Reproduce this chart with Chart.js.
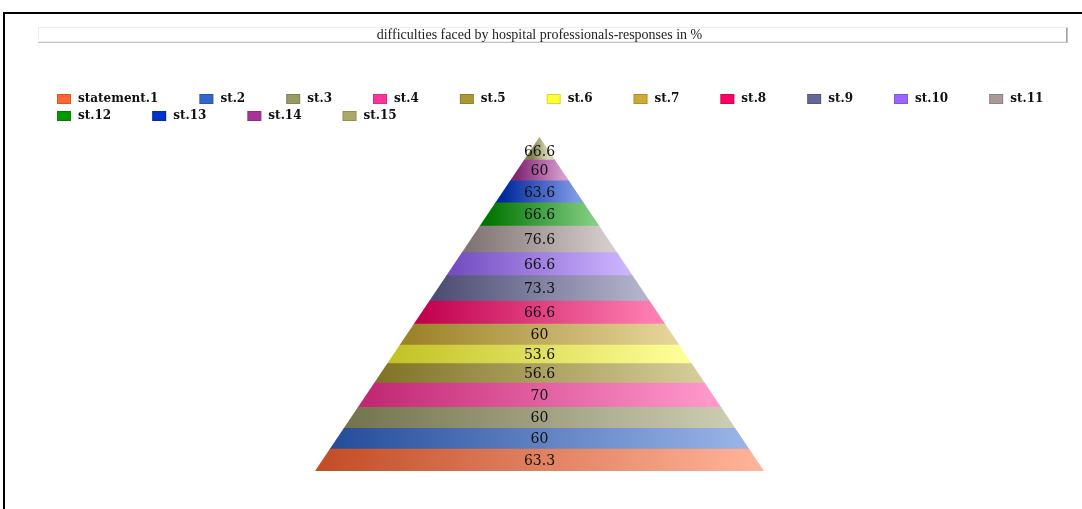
<!DOCTYPE html>
<html>
<head>
<meta charset="utf-8">
<script src="https://cdn.jsdelivr.net/npm/chart.js@4.4.0/dist/chart.umd.min.js"></script>
<style>
    html, body { margin: 0; padding: 0; background: #fff; overflow: hidden; }
    #frame { position: absolute; left: 3px; top: 12px; width: 1100px; height: 520px; border-left: 2px solid #000; border-top: 2px solid #000; }
    #chart { position: absolute; left: 0; top: 0; }
</style>
</head>
<body>
<div id="frame"></div>
<canvas id="chart" width="1082" height="509"></canvas>
<script>
// statements, bottom of the pyramid first
const statements = ['statement.1', 'st.2', 'st.3', 'st.4', 'st.5', 'st.6', 'st.7', 'st.8',
    'st.9', 'st.10', 'st.11', 'st.12', 'st.13', 'st.14', 'st.15'];
const responses = [63.3, 60, 60, 70, 56.6, 53.6, 60, 66.6, 73.3, 66.6, 76.6, 66.6, 63.6, 60, 66.6];
const colors = ['#FF6633', '#3366CC', '#999966', '#FF3399', '#AA9933', '#FFFF33', '#CCAA33', '#FF0066',
    '#666699', '#9966FF', '#AA9999', '#009900', '#0033CC', '#AA3399', '#AAAA66'];
const chartTitle = 'difficulties faced by hospital professionals-responses in %';

const BASE_WIDTH = 449;
const total = responses.reduce((a, b) => a + b, 0);

function hexToRgb(hex) {
    const n = parseInt(hex.slice(1), 16);
    return [(n >> 16) & 255, (n >> 8) & 255, n & 255];
}
function darker(hex, f) {
    const c = hexToRgb(hex);
    return `rgb(${c.map(v => Math.round(v * f)).join(',')})`;
}
function lighter(hex, t) {
    const c = hexToRgb(hex);
    return `rgb(${c.map(v => Math.round(v + (255 - v) * t)).join(',')})`;
}

// Horizontal gradient across the width of each pyramid slice
function sliceFill(context) {
    const chart = context.chart;
    const i = context.datasetIndex;
    if (!chart.chartArea || !chart.scales.x) {
        return colors[i];
    }
    const start = responses.slice(0, i).reduce((a, b) => a + b, 0);
    const mid = start + responses[i] / 2;
    const cx = chart.scales.x.getPixelForValue(0);
    const half = BASE_WIDTH / 2 * (total - mid) / total;
    const g = chart.ctx.createLinearGradient(cx - half, 0, cx + half, 0);
    g.addColorStop(0, darker(colors[i], 0.76));
    g.addColorStop(1, lighter(colors[i], 0.5));
    return g;
}

// Clip the stacked bar into a triangle
const pyramidClip = {
    id: 'pyramidClip',
    beforeDatasetsDraw(chart) {
        const el = chart.getDatasetMeta(0).data[0];
        const y = chart.scales.y;
        const top = y.getPixelForValue(total);
        const bottom = y.getPixelForValue(0);
        const ctx = chart.ctx;
        ctx.save();
        ctx.beginPath();
        ctx.moveTo(el.x, top);
        ctx.lineTo(el.x + el.width / 2, bottom);
        ctx.lineTo(el.x - el.width / 2, bottom);
        ctx.closePath();
        ctx.clip();
    },
    afterDatasetsDraw(chart) {
        const ctx = chart.ctx;
        ctx.restore();

        // Value labels
        ctx.save();
        ctx.font = '14px "DejaVu Serif"';
        ctx.fillStyle = '#111';
        ctx.textAlign = 'center';
        ctx.textBaseline = 'middle';
        const last = chart.data.datasets.length - 1;
        chart.data.datasets.forEach((ds, i) => {
            const el = chart.getDatasetMeta(i).data[0];
            // the apex slice is too narrow, its label sits a little lower
            const shift = i === last ? 4 : 1;
            ctx.fillText(String(responses[i]), el.x, (el.y + el.base) / 2 + shift);
        });
        ctx.restore();
    }
};

// Title bar and legend
const decorations = {
    id: 'decorations',
    beforeDraw(chart) {
        const ctx = chart.ctx;
        ctx.save();
        ctx.strokeStyle = '#ececec';
        ctx.lineWidth = 1;
        ctx.strokeRect(38.5, 27.5, 1028, 14);
        ctx.strokeStyle = '#c4c4c4';
        ctx.beginPath();
        ctx.moveTo(38, 42.5);
        ctx.lineTo(1067.5, 42.5);
        ctx.lineTo(1067.5, 27);
        ctx.stroke();
        ctx.strokeStyle = '#a0a0a0';
        ctx.beginPath();
        ctx.moveTo(1066.5, 28);
        ctx.lineTo(1066.5, 42);
        ctx.stroke();
        ctx.restore();
    },
    afterDraw(chart) {
        const ctx = chart.ctx;
        ctx.save();
        ctx.font = 'bold 12px "DejaVu Serif"';
        ctx.textBaseline = 'middle';
        let x = 57;
        let y = 99;
        statements.forEach((s, i) => {
            const w = 21 + ctx.measureText(s).width;
            if (x + w > 1062) {
                x = 57;
                y += 17;
            }
            ctx.fillStyle = colors[i];
            ctx.fillRect(x, y - 5, 14, 10);
            ctx.strokeStyle = 'rgba(0,0,0,0.15)';
            ctx.strokeRect(x + 0.5, y - 4.5, 13, 9);
            ctx.fillStyle = '#111';
            ctx.fillText(s, x + 21, y);
            x += w + 41;
        });
        ctx.restore();
    }
};

new Chart(document.getElementById('chart'), {
    type: 'bar',
    data: {
        labels: [''],
        datasets: statements.map((s, i) => ({
            label: s,
            data: [responses[i]],
            backgroundColor: sliceFill,
            borderWidth: 0,
            barThickness: BASE_WIDTH
        }))
    },
    options: {
        responsive: false,
        animation: false,
        layout: { padding: { left: 0, right: 3, top: 0, bottom: 38 } },
        scales: {
            x: { display: false, stacked: true },
            y: { display: false, stacked: true, min: 0, max: total }
        },
        plugins: {
            legend: { display: false },
            tooltip: { enabled: false },
            title: {
                display: true,
                text: chartTitle,
                color: '#222',
                font: { family: '"Liberation Serif"', size: 14, weight: 'normal', lineHeight: 1 },
                padding: { top: 28, bottom: 95 }
            }
        }
    },
    plugins: [pyramidClip, decorations]
});
</script>
</body>
</html>
